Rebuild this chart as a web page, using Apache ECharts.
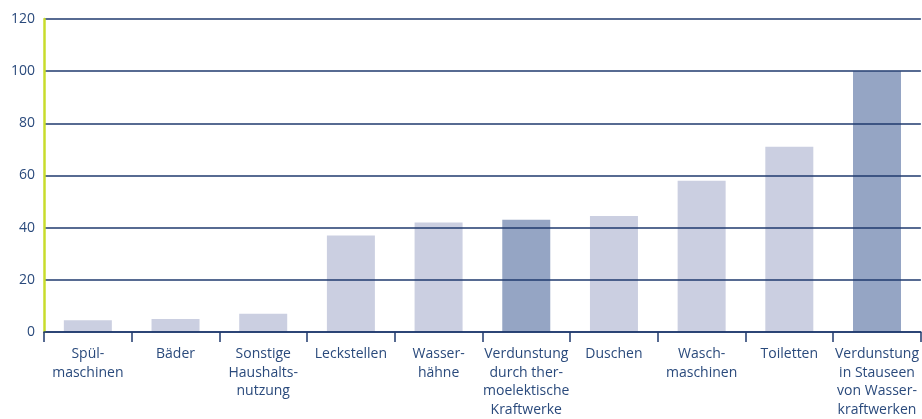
<!DOCTYPE html>
<html><head><meta charset="utf-8">
<script src="https://cdn.jsdelivr.net/npm/echarts@6/dist/echarts.min.js"></script>
<style>html,body{margin:0;padding:0;background:#fff}#c{width:922px;height:419px}</style>
</head><body><div id="c"></div>
<script>
const categories = ["Spül-\nmaschinen","Bäder","Sonstige\nHaushalts-\nnutzung","Leckstellen","Wasser-\nhähne","Verdunstung\ndurch ther-\nmoelektische\nKraftwerke","Duschen","Wasch-\nmaschinen","Toiletten","Verdunstung\nin Stauseen\nvon Wasser-\nkraftwerken"];
const values = [4.5, 5, 7, 37, 42, 43, 44.5, 58, 71, 100];
const highlighted = [false,false,false,false,false,true,false,false,false,true];
const yTicks = [0,20,40,60,80,100,120];

const textColor = '#2a4a7c';
const chart = echarts.init(document.getElementById('c'));
chart.setOption({
  animation:false,
  grid:{left:44, right:0, top:19, bottom:82, containLabel:false},
  xAxis:{type:'category', data:categories, z:5,
    axisLine:{lineStyle:{color:'#1f3a6e', width:1.5}},
    axisTick:{show:true, length:10, lineStyle:{color:'#1f3a6e', width:1.5}},
    axisLabel:{color:textColor, fontFamily:'Open Sans', fontSize:14, lineHeight:18.5, margin:13, interval:0}
  },
  yAxis:{type:'value', min:yTicks[0], max:yTicks[yTicks.length-1], interval:20, z:5,
    axisLine:{show:true, lineStyle:{color:'#c8dc2c', width:2.5}},
    axisTick:{show:false},
    splitLine:{lineStyle:{color:'#1f3a6e', width:1.5}},
    axisLabel:{color:textColor, fontFamily:'Open Sans', fontSize:14, margin:9}
  },
  series:[{type:'bar', barWidth:48, z:2,
    data: values.map((v,i)=>({value:v, itemStyle:{color: highlighted[i] ? '#95a5c4' : '#cbcfe1'}}))
  }]
});
</script></body></html>
